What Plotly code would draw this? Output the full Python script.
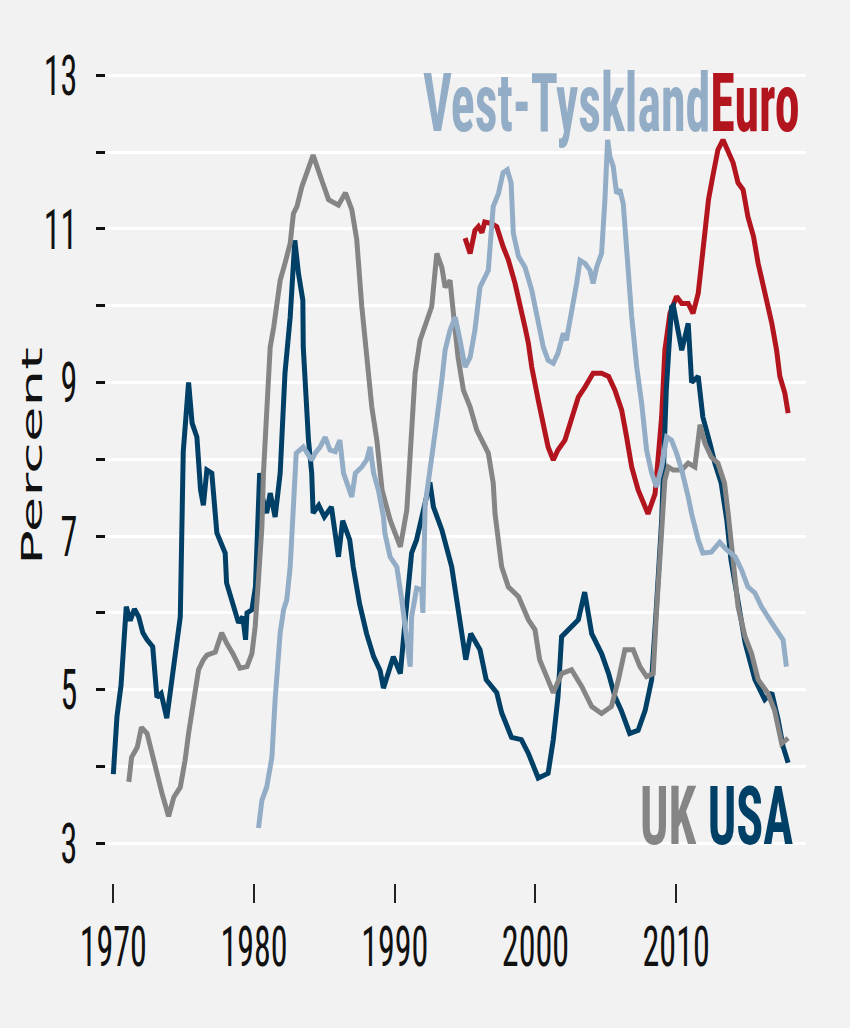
import plotly.graph_objects as go

# ---------------- data ----------------
usa_year = [1970.0, 1970.26, 1970.55, 1970.69, 1970.92, 1971.2, 1971.5, 1971.8, 1972.1, 1972.4,
            1972.8, 1973.1, 1973.4, 1973.8, 1974.2, 1974.5, 1974.76, 1974.97, 1975.35, 1975.6,
            1975.94, 1976.2, 1976.4, 1976.65, 1977.0, 1977.36, 1977.95, 1978.05, 1978.5, 1978.9,
            1979.2, 1979.4, 1979.5, 1979.85, 1980.1, 1980.3, 1980.4, 1980.6, 1980.9, 1981.15,
            1981.5, 1981.86, 1982.2, 1982.57, 1982.9, 1983.16, 1983.47, 1983.5, 1983.87, 1984.1,
            1984.2, 1984.6, 1985.0, 1985.5, 1986.0, 1986.3, 1986.8, 1987.05, 1987.5, 1988.0,
            1988.5, 1988.96, 1989.2, 1989.9, 1990.4, 1990.74, 1991.2, 1991.55, 1992.0, 1992.5,
            1992.75, 1993.35, 1994.05, 1994.5, 1995.05, 1995.4, 1996.06, 1996.5, 1997.25, 1997.6,
            1998.3, 1999.0, 1999.5, 2000.2, 2000.9, 2001.27, 2001.6, 2001.86, 2002.6, 2003.05,
            2003.5, 2004.0, 2004.7, 2005.2, 2005.65, 2006.1, 2006.7, 2007.3, 2007.8, 2008.26,
            2008.6, 2008.97, 2009.3, 2009.67, 2009.8, 2010.4, 2010.86, 2011.1, 2011.57, 2011.9,
            2012.4, 2012.75, 2013.2, 2013.6, 2013.9, 2014.4, 2014.9, 2015.6, 2016.3, 2016.8,
            2017.25, 2017.6, 2017.96]
usa_val = [3.9, 4.65, 5.06, 5.48, 6.08, 5.9, 6.05, 5.95, 5.74, 5.65,
           5.56, 4.9, 4.95, 4.63, 5.17, 5.48, 5.95, 8.1, 9.0, 8.47,
           8.29, 7.6, 7.4, 7.86, 7.82, 7.04, 6.78, 6.39, 6.13, 5.87,
           5.95, 5.65, 6.0, 6.04, 6.34, 7.34, 7.82, 7.5, 7.3, 7.56,
           7.25, 7.82, 9.12, 9.85, 10.85, 10.42, 10.07, 9.46, 8.25, 7.82,
           7.3, 7.4, 7.25, 7.38, 6.73, 7.2, 6.95, 6.6, 6.12, 5.73,
           5.43, 5.25, 5.02, 5.43, 5.21, 5.9, 6.78, 6.95, 7.34, 7.7,
           7.38, 7.08, 6.6, 6.08, 5.39, 5.73, 5.52, 5.13, 4.96, 4.7,
           4.38, 4.35, 4.17, 3.85, 3.91, 4.35, 4.9, 5.69, 5.82, 5.91,
           6.27, 5.73, 5.47, 5.21, 4.91, 4.73, 4.43, 4.47, 4.73, 5.13,
           6.08, 7.2, 8.9, 9.98, 10.0, 9.42, 9.77, 9.0, 9.08, 8.55,
           8.21, 7.95, 7.69, 7.21, 6.69, 6.17, 5.61, 5.13, 4.87, 4.96,
           4.61, 4.26, 4.05]

uk_year = [1971.1, 1971.3, 1971.7, 1972.0, 1972.4, 1972.75, 1973.1, 1973.46, 1973.93, 1974.3,
           1974.76, 1975.1, 1975.35, 1975.7, 1976.06, 1976.4, 1976.65, 1977.25, 1977.7, 1978.07,
           1978.5, 1979.0, 1979.5, 1979.85, 1980.08, 1980.3, 1980.56, 1980.67, 1980.9, 1981.15,
           1981.4, 1981.86, 1982.2, 1982.57, 1982.8, 1983.05, 1983.4, 1983.76, 1984.2, 1984.8,
           1985.3, 1986.0, 1986.5, 1986.95, 1987.3, 1987.66, 1988.0, 1988.37, 1988.73, 1989.1,
           1989.67, 1990.4, 1990.86, 1991.2, 1991.45, 1991.8, 1992.28, 1992.63, 1992.99, 1993.35,
           1993.58, 1993.93, 1994.17, 1994.5, 1994.88, 1995.36, 1995.83, 1996.3, 1996.65, 1997.0,
           1997.13, 1997.6, 1998.07, 1998.8, 1999.5, 1999.97, 2000.3, 2000.8, 2001.27, 2001.86,
           2002.57, 2003.3, 2004.0, 2004.7, 2005.4, 2005.9, 2006.36, 2006.95, 2007.43, 2007.9,
           2008.37, 2008.6, 2008.97, 2009.2, 2009.44, 2009.8, 2010.4, 2010.86, 2011.33, 2011.7,
           2012.04, 2012.5, 2012.97, 2013.44, 2013.7, 2014.05, 2014.4, 2014.9, 2015.36, 2015.83,
           2016.5, 2017.0, 2017.5, 2017.96]
uk_val = [3.8, 4.12, 4.25, 4.51, 4.43, 4.17, 3.86, 3.65, 3.35, 3.6,
          3.73, 4.08, 4.43, 4.87, 5.26, 5.39, 5.45, 5.49, 5.74, 5.6,
          5.47, 5.28, 5.3, 5.47, 5.82, 6.39, 7.12, 7.82, 8.68, 9.46,
          9.72, 10.33, 10.55, 10.81, 11.2, 11.29, 11.55, 11.73, 11.96, 11.64,
          11.38, 11.31, 11.47, 11.25, 10.86, 9.99, 9.33, 8.68, 8.25, 7.6,
          7.21, 6.86, 7.34, 8.47, 9.12, 9.55, 9.81, 9.99, 10.68, 10.5,
          10.24, 10.33, 9.9, 9.33, 8.9, 8.68, 8.38, 8.21, 8.08, 7.69,
          7.29, 6.6, 6.34, 6.21, 5.91, 5.78, 5.39, 5.17, 4.96, 5.21,
          5.26, 5.04, 4.78, 4.69, 4.78, 5.13, 5.52, 5.52, 5.3, 5.17,
          5.21, 6.0, 7.08, 7.73, 7.9, 7.86, 7.86, 7.95, 7.9, 8.45,
          8.21, 8.03, 7.95, 7.69, 7.29, 6.64, 6.08, 5.69, 5.47, 5.13,
          4.96, 4.73, 4.3, 4.37]

wg_year = [1980.32, 1980.56, 1980.9, 1981.27, 1981.5, 1981.86, 1982.1, 1982.33, 1982.57, 1982.8,
           1983.0, 1983.5, 1984.1, 1984.35, 1984.7, 1985.06, 1985.4, 1985.77, 1986.1, 1986.36,
           1986.7, 1986.95, 1987.2, 1987.66, 1988.0, 1988.25, 1988.5, 1988.84, 1989.2, 1989.3,
           1989.67, 1990.15, 1990.5, 1990.86, 1991.1, 1991.2, 1991.56, 1991.92, 1992.0, 1992.16,
           1992.5, 1992.99, 1993.35, 1993.58, 1993.93, 1994.3, 1994.64, 1995.0, 1995.36, 1995.7,
           1996.06, 1996.4, 1996.65, 1997.0, 1997.37, 1997.7, 1998.0, 1998.27, 1998.43, 1998.8,
           1999.26, 1999.74, 2000.2, 2000.56, 2000.9, 2001.27, 2001.6, 2001.98, 2002.2, 2002.58,
           2002.93, 2003.17, 2003.52, 2003.88, 2004.1, 2004.35, 2004.7, 2004.94, 2005.13, 2005.3,
           2005.53, 2005.77, 2006.0, 2006.24, 2006.48, 2006.84, 2007.2, 2007.55, 2007.9, 2008.26,
           2008.6, 2008.97, 2009.33, 2009.67, 2010.03, 2010.4, 2010.86, 2011.1, 2011.57, 2011.9,
           2012.5, 2013.1, 2013.6, 2014.2, 2014.65, 2015.1, 2015.6, 2016.07, 2016.66, 2017.14,
           2017.6, 2017.84]
wg_val = [3.2, 3.56, 3.73, 4.12, 4.87, 5.74, 6.04, 6.17, 6.6, 7.3,
          8.08, 8.16, 7.99, 8.08, 8.16, 8.29, 8.12, 8.1, 8.25, 7.82,
          7.64, 7.51, 7.82, 7.9, 7.99, 8.16, 7.82, 7.6, 7.25, 7.04,
          6.73, 6.6, 6.17, 5.65, 5.3, 5.95, 6.32, 6.3, 6.0, 7.4,
          7.82, 8.51, 9.03, 9.42, 9.68, 9.85, 9.55, 9.2, 9.33, 9.68,
          10.24, 10.37, 10.46, 11.29, 11.46, 11.73, 11.77, 11.6, 10.94, 10.64,
          10.5, 10.2, 9.77, 9.46, 9.29, 9.25, 9.38, 9.64, 9.55, 9.9,
          10.29, 10.59, 10.55, 10.46, 10.29, 10.5, 10.68, 11.38, 12.16, 11.94,
          11.81, 11.46, 11.51, 11.33, 10.72, 9.86, 9.2, 8.73, 8.12, 7.82,
          7.64, 7.9, 8.29, 8.25, 8.08, 7.86, 7.51, 7.29, 6.95, 6.78,
          6.79, 6.92, 6.82, 6.73, 6.56, 6.34, 6.26, 6.08, 5.91, 5.78,
          5.65, 5.3]

euro_year = [1995.0, 1995.2, 1995.36, 1995.7, 1995.95, 1996.2, 1996.4, 1996.9, 1997.25, 1997.7,
             1998.07, 1998.55, 1998.9, 1999.26, 1999.5, 1999.74, 2000.2, 2000.56, 2000.9, 2001.27,
             2001.6, 2002.1, 2002.58, 2003.05, 2003.52, 2004.1, 2004.7, 2005.2, 2005.65, 2006.13,
             2006.48, 2006.84, 2007.3, 2007.7, 2008.0, 2008.5, 2008.97, 2009.2, 2009.56, 2010.03,
             2010.4, 2010.86, 2011.2, 2011.57, 2011.9, 2012.3, 2012.6, 2012.97, 2013.33, 2013.7,
             2014.05, 2014.4, 2014.76, 2015.1, 2015.5, 2015.83, 2016.3, 2016.8, 2017.14, 2017.37,
             2017.73, 2017.96]
euro_val = [10.88, 10.75, 10.68, 10.98, 11.03, 10.95, 11.09, 11.07, 11.03, 10.77,
            10.6, 10.29, 10.03, 9.72, 9.51, 9.2, 8.77, 8.47, 8.16, 7.99,
            8.12, 8.25, 8.51, 8.81, 8.94, 9.12, 9.12, 9.08, 8.9, 8.64,
            8.29, 7.9, 7.6, 7.4, 7.29, 7.55, 8.55, 9.42, 9.9, 10.12,
            10.03, 10.03, 9.9, 10.16, 10.72, 11.38, 11.68, 12.03, 12.16, 11.99,
            11.86, 11.6, 11.51, 11.16, 10.9, 10.55, 10.2, 9.77, 9.42, 9.08,
            8.86, 8.6]

y_tickvals = [3, 4, 5, 6, 7, 8, 9, 10, 11, 12, 13]
y_ticktext = ["3", "", "5", "", "7", "", "9", "", "11", "", "13"]
x_tickvals = [1970, 1980, 1990, 2000, 2010]
x_ticktext = ["1970", "1980", "1990", "2000", "2010"]

# ---------------- style ----------------
C_USA = "#003f66"
C_UK = "#858585"
C_WG = "#93adc7"
C_EURO = "#b3151f"
BG = "#f2f2f2"
NARROW = "Liberation Sans Narrow, Arial Narrow, Roboto Condensed, sans-serif"

fig = go.Figure()
for xs, ys, col, name in [(euro_year, euro_val, C_EURO, "Euro"),
                          (usa_year, usa_val, C_USA, "USA"),
                          (uk_year, uk_val, C_UK, "UK"),
                          (wg_year, wg_val, C_WG, "Vest-Tyskland")]:
    fig.add_trace(go.Scatter(x=xs, y=ys, mode="lines", name=name,
                             line=dict(color=col, width=5), hoverinfo="skip"))

fig.add_annotation(x=2018.93, y=12.64, xref="x", yref="y", xanchor="right", yanchor="middle",
                   showarrow=False,
                   text=f"<span style='color:{C_WG}'>Vest-Tyskland</span><span style='color:{C_EURO}'>Euro</span>",
                   font=dict(family=NARROW, size=50, weight="bold"))
fig.add_annotation(x=2018.44, y=3.36, xref="x", yref="y", xanchor="right", yanchor="middle",
                   showarrow=False,
                   text=f"<span style='color:{C_UK}'>UK</span> <span style='color:{C_USA}'>USA</span>",
                   font=dict(family=NARROW, size=50, weight="bold"))

fig.update_layout(
    width=850, height=1028,
    margin=dict(l=106, r=44, t=55, b=145),
    paper_bgcolor=BG, plot_bgcolor=BG,
    showlegend=False,
    xaxis=dict(range=[1969.48, 2019.23], tickvals=x_tickvals, ticktext=x_ticktext,
               showgrid=False, zeroline=False, showline=False, automargin=False,
               ticks="outside", ticklen=19, tickwidth=1.5, tickcolor="#222222",
               tickfont=dict(family=NARROW, size=34, color="#111111"),
               ticklabelstandoff=14),
    yaxis=dict(range=[2.483, 13.264], tickvals=y_tickvals, ticktext=y_ticktext,
               showgrid=True, gridcolor="#ffffff", gridwidth=2.5,
               zeroline=False, showline=False, automargin=False,
               ticks="outside", ticklen=9, tickwidth=3, tickcolor="#111111",
               tickfont=dict(family=NARROW, size=34, color="#111111"),
               ticklabelstandoff=12,
               title=dict(text="Percent", font=dict(family="DejaVu Sans, sans-serif", size=29, color="#111111"),
                          standoff=10)),
)

# the reference's text is drawn vertically stretched; reproduce that look on the real text nodes
post = """
document.body.style.margin='0';
var gd = document.querySelector('.js-plotly-plot');
function stretch(el, sx, sy, dx, dy){
  var b = el.getBBox();
  if (!b.width) return;
  var cx = b.x + b.width/2, cy = b.y + b.height/2;
  var t = el.getAttribute('transform') || '';
  el.setAttribute('transform', 'translate(' + (dx||0) + ',' + (dy||0) + ') ' + t +
    ' translate(' + cx + ',' + cy + ') scale(' + sx + ',' + sy + ') translate(' + (-cx) + ',' + (-cy) + ')');
}
gd.querySelectorAll('.xtick text, .ytick text').forEach(function(e){ stretch(e, 1, 1.65); });
gd.querySelectorAll('.annotation-text').forEach(function(e){ stretch(e, 1, 1.65); });
gd.querySelectorAll('.ytitle').forEach(function(e){ stretch(e, 2.0, 1, 15, -13); });
"""

fig.write_html("out.html", config={"displayModeBar": False}, post_script=post)
